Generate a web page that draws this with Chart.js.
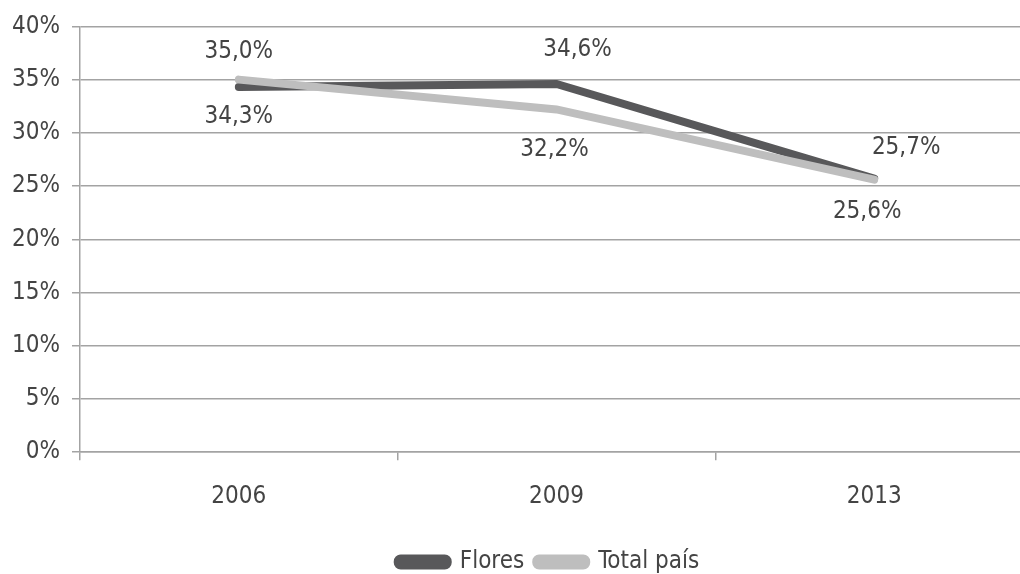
<!DOCTYPE html>
<html>
<head>
<meta charset="utf-8">
<script src="https://cdn.jsdelivr.net/npm/chart.js@4.4.1/dist/chart.umd.min.js"></script>
<style>
  html, body { margin: 0; padding: 0; background: #fff; overflow: hidden; }
  #wrap { width: 1040px; height: 584px; }
</style>
</head>
<body>
<div id="wrap"><canvas id="c" width="1040" height="584"></canvas></div>
<script>
const categories = ['2006', '2009', '2013'];
const flores = [34.3, 34.6, 25.7];
const totalPais = [35.0, 32.2, 25.6];
const seriesNames = ['Flores', 'Total país'];
const yTicks = [0, 5, 10, 15, 20, 25, 30, 35, 40];

const FONT = "'DejaVu Sans Condensed', 'Liberation Sans Narrow', sans-serif";
const FSIZE = 24;
const TEXT = '#444444';
const GRID = '#a3a3a3';

// label offsets (style only): [dx, dy] per dataset per point
const labelOffsets = [
  [[0, 30], [21, -34], [32, -31]],
  [[0, -28], [-2, 40], [-7, 32]]
];

const fmt = v => v.toFixed(1).replace('.', ',') + '%';

const labelPlugin = {
  id: 'pointLabels',
  afterDatasetsDraw(chart) {
    const ctx = chart.ctx;
    ctx.save();
    ctx.font = FSIZE + 'px ' + FONT;
    ctx.fillStyle = TEXT;
    ctx.textAlign = 'center';
    ctx.textBaseline = 'middle';
    chart.data.datasets.forEach((ds, di) => {
      const meta = chart.getDatasetMeta(di);
      meta.data.forEach((pt, i) => {
        const off = labelOffsets[di][i];
        ctx.fillText(fmt(ds.data[i]), pt.x + off[0], pt.y + off[1]);
      });
    });
    ctx.restore();
  }
};

// shift legend to the right (style only)
const legendShift = {
  id: 'legendShift',
  afterLayout(chart) {
    const lg = chart.legend;
    if (lg) {
      lg.left += 32;
      lg.right += 32;
    }
  }
};

new Chart(document.getElementById('c'), {
  type: 'line',
  data: {
    labels: categories,
    datasets: [
      { label: seriesNames[0], data: flores, borderColor: '#58585a', backgroundColor: '#58585a',
        borderWidth: 8, pointRadius: 0, tension: 0, borderCapStyle: 'round', order: 1 },
      { label: seriesNames[1], data: totalPais, borderColor: '#bebebe', backgroundColor: '#bebebe',
        borderWidth: 8, pointRadius: 0, tension: 0, borderCapStyle: 'round', order: 0 }
    ]
  },
  options: {
    responsive: false,
    animation: false,
    layout: { padding: { top: 12, right: 7, left: 0, bottom: 0 } },
    plugins: {
      legend: {
        position: 'bottom',
        labels: {
          font: { family: FONT, size: FSIZE },
          color: TEXT,
          boxWidth: 50,
          boxHeight: 7,
          useBorderRadius: true,
          borderRadius: 3,
          padding: 12,
          sort: (a, b) => a.datasetIndex - b.datasetIndex
        }
      },
      tooltip: { enabled: false }
    },
    scales: {
      x: {
        offset: true,
        afterFit: axis => { axis.height += 5; },
        grid: { offset: true, drawOnChartArea: false, color: GRID, lineWidth: 1.5, tickLength: 8 },
        border: { color: GRID, width: 1.5 },
        ticks: { font: { family: FONT, size: FSIZE }, color: TEXT, padding: 22 }
      },
      y: {
        min: 0, max: 40,
        afterBuildTicks: axis => { axis.ticks = yTicks.map(v => ({ value: v })); },
        afterFit: axis => { axis.width = 80; },
        grid: { color: GRID, lineWidth: 1.5, tickLength: 8 },
        border: { color: GRID, width: 1.5 },
        ticks: { font: { family: FONT, size: FSIZE }, color: TEXT, padding: 12, callback: v => v + '%' }
      }
    }
  },
  plugins: [labelPlugin, legendShift]
});
</script>
</body>
</html>
